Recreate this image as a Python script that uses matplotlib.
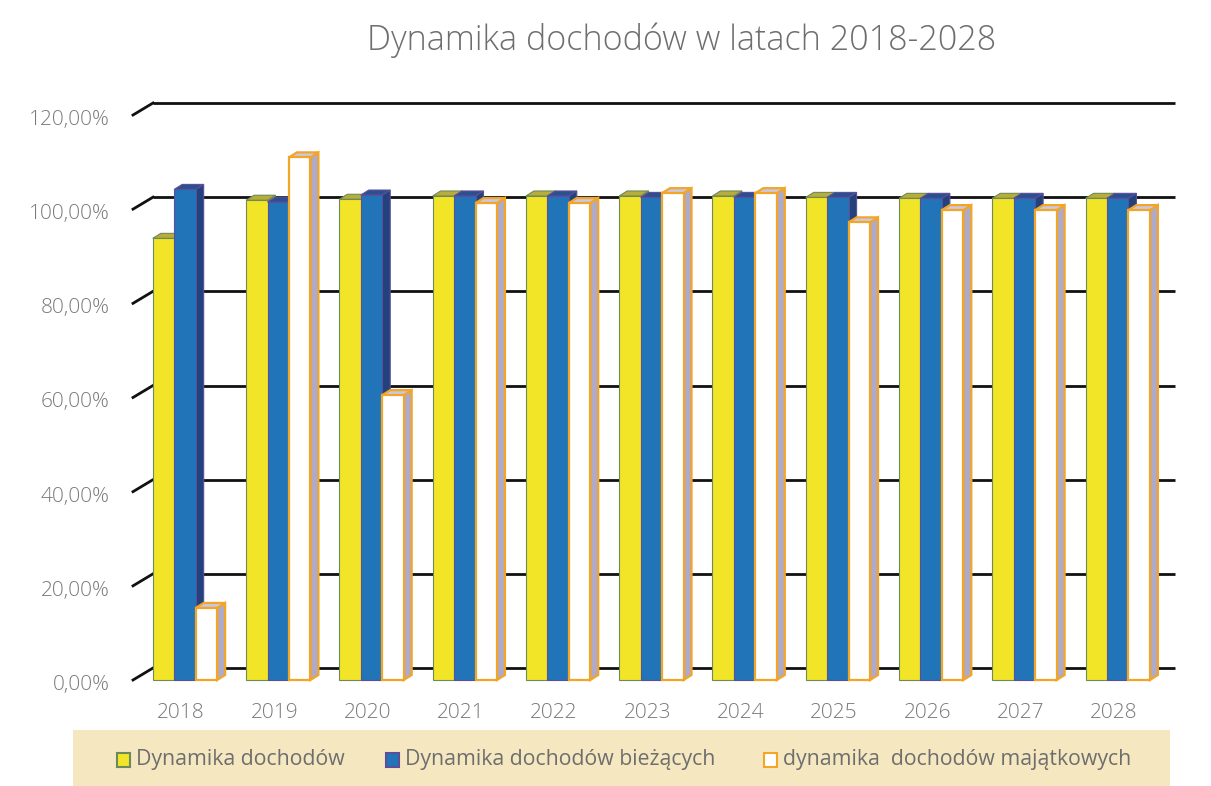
import matplotlib
matplotlib.use("Agg")
import matplotlib.pyplot as plt
from matplotlib.patches import Polygon, Rectangle

years = ["2018", "2019", "2020", "2021", "2022", "2023", "2024", "2025", "2026", "2027", "2028"]
dyn_total = [93.8, 101.9, 102.1, 102.8, 102.8, 102.8, 102.8, 102.5, 102.3, 102.3, 102.3]
dyn_current = [104.2, 101.5, 103.0, 102.8, 102.8, 102.5, 102.5, 102.5, 102.3, 102.3, 102.3]
dyn_property = [15.3, 111.0, 60.5, 101.3, 101.3, 103.4, 103.4, 97.2, 99.8, 99.8, 99.8]
yticks = [0, 20, 40, 60, 80, 100, 120]
ytick_labels = ["0,00%", "20,00%", "40,00%", "60,00%", "80,00%", "100,00%", "120,00%"]
series_names = ["Dynamika dochodów", "Dynamika dochodów bieżących", "dynamika  dochodów majątkowych"]

W, H = 1211, 786
fig = plt.figure(figsize=(W / 100, H / 100), dpi=100)
fig.patch.set_facecolor("white")
FONT = ["Open Sans", "DejaVu Sans"]
TXT = "#6e6e6e"
TICK = "#7a7a7a"

# axes in pixel geometry (front plane)
ax_left, ax_right, ax_bottom, ax_top = 133, 1155, 680, 115
ax = fig.add_axes([ax_left / W, 1 - ax_bottom / H, (ax_right - ax_left) / W, (ax_bottom - ax_top) / H])
x0, x1 = -0.557, 10.40
ax.set_xlim(x0, x1)
ax.set_ylim(0, 120)
ax.axis("off")

px_x = (ax_right - ax_left) / (x1 - x0)
px_y = (ax_bottom - ax_top) / 120.0

# back wall gridlines (pixel offsets)
wall_dx, wall_dy = 20 / px_x, 12 / px_y
for yv in yticks:
    ax.plot([x0 + wall_dx, x1 + wall_dx], [yv + wall_dy, yv + wall_dy], color="#111111", lw=2.0,
            clip_on=False, zorder=1, solid_capstyle="butt")
    ax.plot([x0, x0 + wall_dx], [yv, yv + wall_dy], color="#111111", lw=2.0, clip_on=False, zorder=1)

# bars
bw = 0.23
bdx, bdy = 8 / px_x, 5 / px_y
styles = [
    dict(front="#f2e528", top="#b9ad3a", side="#a89c2a", edge="#6f8a5a"),
    dict(front="#2274b8", top="#2c4f8f", side="#23427c", edge="#5a4f9a"),
    dict(front="#ffffff", top="#c9c8e6", side="#aeaac9", edge="#f3a526"),
]
series = [dyn_total, dyn_current, dyn_property]
offsets = [-bw, 0.0, bw]
z = 3
for i in range(len(years)):
    for s, (vals, st, off) in enumerate(zip(series, styles, offsets)):
        xc = i + off
        xl, xr = xc - bw / 2, xc + bw / 2
        v = vals[i]
        lw = 1.6 if s == 2 else 0.8
        ax.add_patch(Polygon([(xr, 0), (xr + bdx, bdy), (xr + bdx, v + bdy), (xr, v)], closed=True,
                             facecolor=st["side"], edgecolor=st["edge"], lw=lw, zorder=z, clip_on=False))
        ax.add_patch(Polygon([(xl, v), (xl + bdx, v + bdy), (xr + bdx, v + bdy), (xr, v)], closed=True,
                             facecolor=st["top"], edgecolor=st["edge"], lw=lw, zorder=z, clip_on=False))
        ax.bar(xc, v, width=bw, color=st["front"], edgecolor=st["edge"], linewidth=lw, zorder=z + 0.5,
               clip_on=False)
        z += 1

# y tick labels
for yv, lab in zip(yticks, ytick_labels):
    ax.text(x0 - 23 / px_x, yv - 5 / px_y, lab, ha="right", va="center", fontsize=15, color=TICK,
            family=FONT, fontweight="light", clip_on=False)

# x tick labels
for i, yr in enumerate(years):
    ax.text(i - 4 / px_x, -33 / px_y, yr, ha="center", va="center", fontsize=15, color=TICK,
            family=FONT, fontweight="light", clip_on=False)

# title
fig.text(682 / W, 1 - 40 / H, "Dynamika dochodów w latach 2018-2028", ha="center", va="center",
         fontsize=24.5, color=TXT, family=FONT, fontweight="light")

# legend panel
fig.patches.append(Rectangle((73 / W, 0), 1097 / W, 56 / H, transform=fig.transFigure,
                             facecolor="#f5e7bf", edgecolor="none", zorder=0))
leg_y = 760
leg_items = [(117, 136, series_names[0]), (386, 405, series_names[1]), (764, 783, series_names[2])]
for (mx, tx, name), st in zip(leg_items, styles):
    fig.patches.append(Rectangle((mx / W, 1 - (leg_y + 7) / H), 13 / W, 14 / H, transform=fig.transFigure,
                                 facecolor=st["front"], edgecolor=st["edge"], lw=1.5, zorder=2))
    fig.text(tx / W, 1 - leg_y / H, name, ha="left", va="center", fontsize=15.3, color=TXT, family=FONT)

fig.savefig("out.png", dpi=100)
